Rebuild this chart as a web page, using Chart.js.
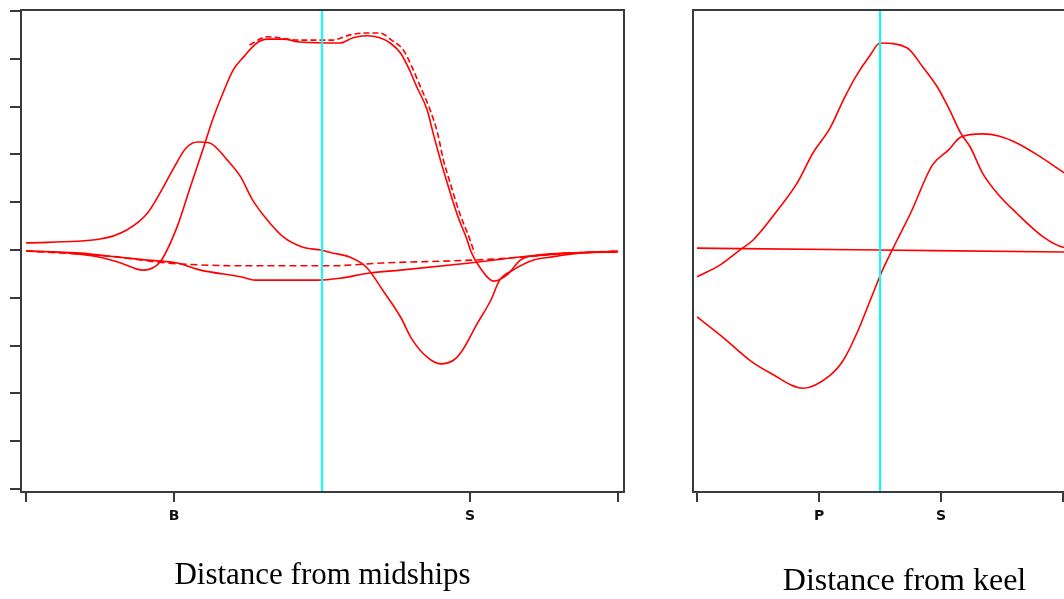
<!DOCTYPE html>
<html>
<head>
<meta charset="utf-8">
<script src="https://cdn.jsdelivr.net/npm/chart.js@4.4.1/dist/chart.umd.min.js"></script>
<style>
  body { margin: 0; background: #fff; }
  #wrap { position: relative; width: 1064px; height: 599px; overflow: hidden; background: #fff; }
  #left { position: absolute; left: 0; top: 0; }
  #right { position: absolute; left: 680px; top: 0; }
</style>
</head>
<body>
<div id="wrap">
  <canvas id="left" width="626" height="599"></canvas>
  <canvas id="right" width="436" height="599"></canvas>
</div>
<script>
//DATOS - panel izquierdo (distancia desde el centro del buque)
const midTicks = [0, 1, 3, 4];
const midLabels = ["", "B", "S", ""];
const midCentre = 2;

const bumpX = [0, 0.5, 0.68, 0.82, 0.905, 0.99, 1.08, 1.16, 1.24, 1.36, 1.45, 1.53, 1.63, 1.74, 1.87, 1.99, 2.07, 2.19, 2.30, 2.41, 2.53, 2.61, 2.71, 2.80, 2.89, 2.95, 3.05, 3.14, 3.20, 3.29, 3.43, 3.54, 3.76, 4.0];
const bumpY = [0.15, 0.23, 0.42, 0.77, 1.19, 1.67, 2.13, 2.26, 2.24, 1.88, 1.53, 1.05, 0.63, 0.27, 0.06, 0, -0.06, -0.15, -0.36, -0.84, -1.40, -1.88, -2.24, -2.38, -2.30, -2.09, -1.53, -1.05, -0.63, -0.42, -0.21, -0.15, -0.06, -0.04];

const plateauX = [0, 0.28, 0.5, 0.64, 0.79, 0.905, 1.02, 1.11, 1.20, 1.26, 1.33, 1.40, 1.47, 1.56, 1.63, 1.74, 1.85, 2.12, 2.21, 2.30, 2.39, 2.46, 2.53, 2.59, 2.64, 2.71, 2.75, 2.80, 2.84, 2.91, 2.98, 3.01, 3.07, 3.16, 3.25, 3.34, 3.47, 3.99];
const plateauY = [-0.02, -0.06, -0.15, -0.27, -0.42, -0.25, 0.48, 1.32, 2.15, 2.72, 3.28, 3.77, 4.04, 4.33, 4.41, 4.41, 4.35, 4.33, 4.44, 4.48, 4.44, 4.33, 4.12, 3.77, 3.41, 2.93, 2.45, 1.88, 1.46, 0.77, 0.21, -0.06, -0.38, -0.65, -0.52, -0.21, -0.10, -0.04];

const plateau2X = [1.51, 1.63, 1.85, 2.07, 2.19, 2.30, 2.39, 2.47, 2.55, 2.61, 2.66, 2.73, 2.78, 2.82, 2.86, 2.93, 3.0, 3.03];
const plateau2Y = [4.29, 4.46, 4.39, 4.39, 4.50, 4.54, 4.54, 4.39, 4.18, 3.81, 3.45, 2.93, 2.45, 1.88, 1.46, 0.77, 0.21, -0.06];

const lowX = [0, 0.34, 0.57, 0.82, 1.02, 1.18, 1.45, 1.55, 1.97, 2.12, 2.32, 2.53, 3.0, 3.32, 3.61, 4.0];
const lowY = [-0.02, -0.06, -0.13, -0.21, -0.27, -0.42, -0.56, -0.63, -0.63, -0.59, -0.48, -0.42, -0.27, -0.15, -0.08, -0.02];

const dashX = [0, 0.57, 0.95, 1.51, 2.05, 2.41, 3.02, 3.34, 3.61, 4.0];
const dashY = [-0.02, -0.13, -0.27, -0.33, -0.33, -0.27, -0.21, -0.15, -0.08, -0.02];

//DATOS - panel derecho (distancia desde la quilla)
const keelTicks = [0, 1, 2, 3];
const keelLabels = ["", "P", "S", ""];
const keelCentre = 1.5;

const peakX = [0, 0.19, 0.35, 0.46, 0.68, 0.82, 0.95, 1.09, 1.20, 1.30, 1.42, 1.50, 1.72, 1.85, 1.97, 2.07, 2.16, 2.24, 2.34, 2.46, 2.62, 2.84, 3.0, 3.1];
const peakY = [-0.56, -0.31, 0, 0.21, 0.90, 1.40, 2.03, 2.55, 3.14, 3.62, 4.08, 4.33, 4.23, 3.83, 3.41, 2.93, 2.45, 2.15, 1.61, 1.19, 0.77, 0.27, 0.06, 0.04];

const waveX = [0, 0.21, 0.43, 0.60, 0.87, 1.09, 1.20, 1.31, 1.42, 1.52, 1.64, 1.75, 1.93, 2.06, 2.16, 2.34, 2.48, 2.62, 2.79, 3.0, 3.22];
const waveY = [-1.40, -1.82, -2.30, -2.57, -2.89, -2.62, -2.30, -1.74, -1.05, -0.42, 0.21, 0.77, 1.78, 2.09, 2.36, 2.43, 2.38, 2.24, 1.99, 1.63, 1.26];

const flatX = [0, 1.5, 3.0, 3.4];
const flatY = [0.04, 0, -0.04, -0.05];

const yTicks = [-5, -4, -3, -2, -1, 0, 1, 2, 3, 4, 5];
const yMin = -5.06, yMax = 5.02;

/////////////

const ROJO = "rgb(255,0,0)";
const CIAN = "rgb(0,255,255)";
const GRIS = "#3a3a3a";

function puntos(xs, ys){
  let out = [];
  for(let i = 0; i < xs.length; i++){
    out.push({x: xs[i], y: ys[i]});
  }
  return out;
}

function linea(xs, ys, dash){
  return {
    data: puntos(xs, ys),
    borderColor: ROJO,
    borderWidth: 1.6,
    borderDash: dash || [],
    pointRadius: 0,
    showLine: true,
    cubicInterpolationMode: "monotone"
  };
}

function lineaCentro(x){
  return {
    data: [{x: x, y: yMin}, {x: x, y: yMax}],
    borderColor: CIAN,
    borderWidth: 2,
    pointRadius: 0,
    showLine: true
  };
}

// marco gris alrededor del area de la grafica
const marco = {
  id: "marco",
  afterDatasetsDraw(chart){
    const a = chart.chartArea;
    const ctx = chart.ctx;
    ctx.save();
    ctx.strokeStyle = GRIS;
    ctx.lineWidth = 2;
    ctx.strokeRect(a.left, a.top, a.right - a.left, a.bottom - a.top);
    ctx.restore();
  }
};

function opciones(xmin, xmax, ticks, labels, titulo, tamTitulo, padTitulo, yWidth, yMarcas){
  return {
    responsive: false,
    animation: false,
    devicePixelRatio: 1,
    layout: { padding: { top: 10, left: 0, right: 0, bottom: 0 } },
    plugins: { legend: { display: false }, tooltip: { enabled: false } },
    scales: {
      x: {
        type: "linear",
        min: xmin,
        max: xmax,
        afterBuildTicks: function(s){ s.ticks = ticks.map(v => ({value: v})); },
        afterFit: function(s){ s.height = 107; },
        border: { display: false },
        grid: { drawOnChartArea: false, drawTicks: true, tickLength: 10, color: GRIS, lineWidth: 2 },
        ticks: {
          padding: 6,
          color: "#111",
          font: { family: "DejaVu Sans", size: 14, weight: "bold" },
          callback: function(v){ return labels[ticks.indexOf(v)]; }
        },
        title: {
          display: true,
          text: titulo,
          color: "#000",
          font: { family: "Liberation Serif", size: tamTitulo, lineHeight: 1 },
          padding: { top: 0, bottom: padTitulo }
        }
      },
      y: {
        type: "linear",
        min: yMin,
        max: yMax,
        afterBuildTicks: function(s){ s.ticks = yTicks.map(v => ({value: v})); },
        afterFit: function(s){ s.width = yWidth; },
        border: { display: false },
        grid: { display: yMarcas, drawOnChartArea: false, drawTicks: true, tickLength: 11, color: GRIS, lineWidth: 2 },
        ticks: { display: false }
      }
    }
  };
}

const izq = new Chart(document.getElementById("left"), {
  type: "scatter",
  data: {
    datasets: [
      lineaCentro(midCentre),
      linea(bumpX, bumpY),
      linea(plateauX, plateauY),
      linea(plateau2X, plateau2Y, [6, 3]),
      linea(lowX, lowY),
      linea(dashX, dashY, [7, 4])
    ]
  },
  options: (function(){
    let o = opciones(-0.034, 4.04, midTicks, midLabels, "Distance from midships", 31, 8, 21, true);
    o.layout.padding.right = 2;
    return o;
  })(),
  plugins: [marco]
});

const der = new Chart(document.getElementById("right"), {
  type: "scatter",
  data: {
    datasets: [
      lineaCentro(keelCentre),
      linea(peakX, peakY),
      linea(waveX, waveY),
      linea(flatX, flatY)
    ]
  },
  options: opciones(-0.033, 3.434, keelTicks, keelLabels, "Distance from keel", 32, 1, 13, false),
  plugins: [marco]
});
</script>
</body>
</html>
